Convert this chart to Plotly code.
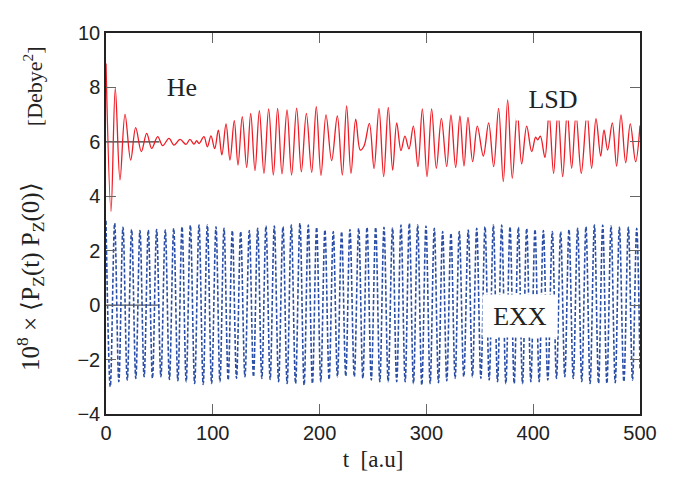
import plotly.graph_objects as go

# ---------------- data ----------------
# LSD curve (red): extrema (time, value)
lsd_t = [0, 4.7, 8.7, 13.1, 17.8, 23.1, 27.8, 33.1, 38.1, 42.8, 48.4, 53.1, 59.0, 63.7,
         69.3, 74.9, 78.6, 82.4, 84.9, 87.2, 91.7, 94.9, 98.3, 101.8, 105.2, 108.5,
         112.4, 116.1, 120.1, 123.6, 127.6, 131.7, 135.5, 139.5, 143.6, 147.9, 152.3,
         156.7, 160.7, 164.8, 169.5, 173.8, 178.5, 182.9, 187.6, 192.6, 196.9, 201.3,
         206.0, 211.3, 216.6, 221.3, 225.3, 229.4, 233.8, 238.1, 241.5, 246.6, 251.0,
         255.6, 260.0, 264.3, 268.4, 272.2, 276.2, 279.9, 283.7, 287.8, 292.1, 296.2,
         300.6, 304.9, 309.3, 314.0, 319.0, 323.0, 327.4, 331.4, 335.2, 338.9, 343.3,
         347.7, 353.3, 358.3, 363.0, 367.6, 372.0, 376.1, 380.4, 385.1, 389.2, 393.9,
         398.6, 402.3, 404.2, 406.7, 411.0, 414.8, 419.1, 423.2, 427.6, 431.9, 436.0,
         440.1, 445.0, 450.4, 454.7, 458.8, 463.2, 466.3, 469.7, 474.1, 478.1, 482.2,
         486.6, 490.9, 495.9, 500.0]
lsd_v = [8.88, 3.45, 7.97, 4.60, 7.01, 5.33, 6.52, 5.64, 6.31, 5.76, 6.19, 5.86, 6.13, 5.88,
         6.09, 5.91, 6.09, 5.92, 6.04, 5.94, 6.19, 5.82, 6.22, 5.75, 6.43, 5.52,
         6.66, 5.33, 6.78, 5.15, 6.93, 5.06, 7.05, 4.94, 7.15, 4.84, 7.21,
         4.78, 7.23, 4.82, 7.17, 4.78, 7.24, 4.90, 7.05, 4.88, 7.29, 4.77,
         6.99, 5.31, 6.95, 4.78, 7.32, 4.84, 6.83, 5.70, 5.84, 6.68, 5.02,
         7.23, 4.72, 7.27, 4.96, 6.70, 5.68, 6.21, 5.74, 6.58, 5.09, 7.21,
         4.72, 7.21, 5.03, 6.86, 5.09, 6.99, 5.06, 6.95, 5.11, 6.90, 5.27,
         6.58, 5.48, 6.70, 5.09, 7.23, 4.54, 7.54, 4.66, 7.11, 5.19, 6.58,
         5.64, 6.17, 6.07, 6.21, 5.43, 7.05, 4.84, 7.15, 4.72, 7.10, 5.03,
         7.00, 4.84, 7.05, 5.03, 6.85, 5.48, 6.44, 5.70, 6.70, 5.11, 6.99,
         5.23, 6.66, 5.27, 6.60]

# EXX curve (blue dashed): peaks and troughs
exx_peak_t = [0.0, 8.1, 15.9, 24.0, 31.8, 39.6, 47.4, 55.5, 63.4, 71.2, 79.0, 87.1, 94.9,
              103.0, 110.5, 118.3, 126.1, 134.2, 142.0, 149.8, 157.6, 165.7, 173.5, 181.6,
              189.4, 197.2, 205.0, 212.8, 220.6, 228.4, 236.6, 244.4, 252.5, 260.3, 268.3,
              276.2, 284.0, 291.8, 299.6, 307.4, 315.2, 323.0, 330.8, 339.2, 347.1, 354.9,
              362.7, 370.5, 378.3, 386.1, 393.9, 401.7, 409.5, 417.9, 425.7, 433.5, 441.6,
              449.4, 457.3, 465.1, 472.9, 480.7, 489.1, 496.9]
exx_peak_v = [3.10, 3.01, 2.86, 2.78, 2.74, 2.76, 2.78, 2.76, 2.82, 2.88, 2.94, 2.94, 2.94,
              2.88, 2.82, 2.74, 2.70, 2.74, 2.82, 2.91, 2.91, 2.88, 2.94, 3.01,
              2.94, 2.86, 2.76, 2.70, 2.70, 2.78, 2.82, 2.86, 2.86, 2.86, 2.84,
              2.94, 3.01, 2.94, 2.91, 2.82, 2.70, 2.64, 2.70, 2.76, 2.82, 2.88,
              2.94, 2.94, 2.88, 2.86, 2.82, 2.78, 2.74, 2.70, 2.70, 2.78, 2.82,
              2.88, 2.94, 2.94, 2.91, 2.86, 2.86, 2.82]
exx_trough_t = [4.0, 12.0, 19.9, 27.9, 35.7, 43.5, 51.4, 59.4, 67.3, 75.1, 83.0, 91.0, 98.9,
                106.7, 114.4, 122.2, 130.1, 138.1, 145.9, 153.7, 161.6, 169.6, 177.5, 185.5,
                193.3, 201.1, 208.9, 216.7, 224.5, 232.5, 240.5, 248.4, 256.4, 264.2, 272.2,
                280.1, 287.9, 295.7, 303.5, 311.3, 319.1, 326.9, 335.0, 343.1, 351.0, 358.8,
                366.6, 374.4, 382.2, 390.0, 397.8, 405.6, 413.7, 421.8, 429.6, 437.5, 445.5,
                453.3, 461.2, 469.0, 476.8, 484.9, 493.0, 500.0]
exx_trough_v = [-3.00, -2.81, -2.75, -2.69, -2.63, -2.69, -2.63, -2.73, -2.78, -2.81, -2.88,
                -2.91, -2.88, -2.81, -2.75, -2.69, -2.63, -2.63, -2.69, -2.73, -2.81, -2.88,
                -2.88, -2.94, -2.88, -2.81, -2.73, -2.63, -2.61, -2.63, -2.69, -2.75, -2.81,
                -2.81, -2.81, -2.81, -2.88, -2.94, -2.88, -2.85, -2.78, -2.69, -2.63, -2.63,
                -2.69, -2.75, -2.81, -2.88, -2.88, -2.88, -2.81, -2.81, -2.75, -2.69, -2.63,
                -2.69, -2.81, -2.88, -2.88, -2.88, -2.85, -2.81, -2.75, -2.40]

# short reference baselines
base_t = [0, 50]
base_lsd = [6, 6]
base_exx = [0, 0]

x_ticks = [0, 100, 200, 300, 400, 500]
y_ticks = [-4, -2, 0, 2, 4, 6, 8, 10]

labels = ["He", "LSD", "EXX"]
label_t = [71, 419, 388]
label_v = [8.0, 7.57, -0.40]

# ---------------- build ----------------
exx_pts = sorted(list(zip(exx_peak_t, exx_peak_v)) + list(zip(exx_trough_t, exx_trough_v)))
exx_t = [p[0] for p in exx_pts]
exx_v = [p[1] for p in exx_pts]

fig = go.Figure()
fig.add_trace(go.Scatter(x=base_t, y=base_lsd, mode="lines",
                         line=dict(color="#333333", width=1.3), hoverinfo="skip"))
fig.add_trace(go.Scatter(x=base_t, y=base_exx, mode="lines",
                         line=dict(color="#555555", width=1.3), hoverinfo="skip"))
fig.add_trace(go.Scatter(x=exx_t, y=exx_v, mode="lines",
                         line=dict(color="#2b4fa6", width=1.6, dash="4px,2px",
                                   shape="spline", smoothing=1.0)))
fig.add_trace(go.Scatter(x=lsd_t, y=lsd_v, mode="lines",
                         line=dict(color="#ee1c25", width=1.3, shape="spline", smoothing=1.0)))

serif = "Liberation Serif, Times New Roman, serif"
sans = "Liberation Sans, Arial, sans-serif"

for txt, t, v in zip(labels, label_t, label_v):
    fig.add_annotation(x=t, y=v, text=txt, showarrow=False,
                       font=dict(family=serif, size=26, color="#222222"),
                       bgcolor="white", width=66, height=34, borderpad=4)

fig.add_annotation(xref="paper", yref="paper", x=-0.142, y=0.36, textangle=-90,
                   xanchor="center", yanchor="middle",
                   text="10<sup>8</sup> × ⟨P<sub>Z</sub>(t) P<sub>Z</sub>(0)⟩",
                   showarrow=False, font=dict(family=serif, size=25, color="#222222"))
fig.add_annotation(xref="paper", yref="paper", x=-0.137, y=0.86, textangle=-90,
                   xanchor="center", yanchor="middle",
                   text="[Debye<sup>2</sup>]",
                   showarrow=False, font=dict(family=serif, size=22, color="#222222"))

axis_common = dict(showline=True, linecolor="#222222", linewidth=1.5, mirror="ticks",
                   ticks="inside", ticklen=10, tickwidth=1.4, tickcolor="#666666",
                   showgrid=False, zeroline=False,
                   tickfont=dict(family=sans, size=20, color="#222222"))

fig.update_xaxes(range=[0, 500], tickvals=x_ticks, **axis_common,
                 title=dict(text="t  [a.u]", font=dict(family=serif, size=23, color="#222222"),
                            standoff=8))
fig.update_yaxes(range=[-4, 10], tickvals=y_ticks, ticksuffix="\u2004", **axis_common)

fig.update_layout(width=675, height=491, margin=dict(l=106, r=35, t=33, b=77),
                  plot_bgcolor="white", paper_bgcolor="white", showlegend=False)

fig.write_html("out.html")
